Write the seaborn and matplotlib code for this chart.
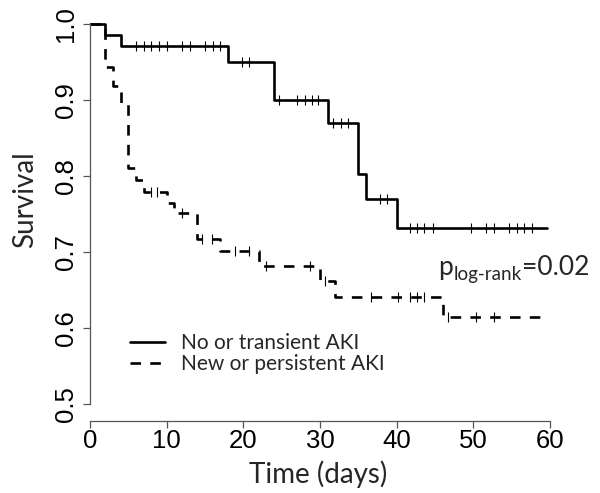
import numpy as np
import pandas as pd
import matplotlib
matplotlib.use('Agg')
import matplotlib.pyplot as plt
from matplotlib.lines import Line2D
import seaborn as sns

# ─── Data ───
# No or transient AKI
t_no = [0, 2, 4, 18, 24, 31, 35, 36, 40]
s_no = [1.0, 0.985, 0.970, 0.949, 0.900, 0.869, 0.803, 0.769, 0.731]
end_no = 59.6
cens_no = [6, 7, 8, 9, 10, 12, 13, 15, 16, 17, 19.8, 20.7, 24.7, 27, 28, 29, 29.8,
           31.7, 32.8, 33.7, 37.8, 38.7, 41.7, 42.7, 43.6, 44.7,
           49.7, 51.6, 52.7, 54.7, 55.7, 56.6, 57.7]

# New or persistent AKI
t_new = [0, 2, 3, 4, 5, 6, 7, 10, 11, 14, 17, 22, 30, 32, 46]
s_new = [1.0, 0.943, 0.918, 0.895, 0.810, 0.794, 0.779, 0.765, 0.751, 0.717,
         0.701, 0.681, 0.662, 0.641, 0.615]
end_new = 58.8
cens_new = [7.9, 8.8, 12, 14.6, 15.9, 18.9, 20.7, 22.9, 28.7, 30.6, 36.7, 40.2,
            41.7, 42.7, 43.6, 46.7, 50.3, 52.7]

x_ticks = [0, 10, 20, 30, 40, 50, 60]
y_ticks = [0.5, 0.6, 0.7, 0.8, 0.9, 1.0]
labels = ['No or transient AKI', 'New or persistent AKI']
p_text = ('p', 'log-rank', '=0.02')

# ─── Setup ───
sns.set_theme(style='white')
plt.rcParams['font.family'] = ['Liberation Sans', 'DejaVu Sans']
LABEL_FONT = ['Lato', 'DejaVu Sans']


def step_frame(times, surv, end):
    return pd.DataFrame({'time': list(times) + [end],
                         'surv': list(surv) + [surv[-1]]})


def censor_frame(times, surv, cens):
    idx = np.searchsorted(times, cens, side='right') - 1
    return pd.DataFrame({'time': cens, 'surv': np.asarray(surv)[idx]})


fig = plt.figure(figsize=(6, 4.93), dpi=100)
ax = fig.add_axes([0.15, 0.146, 0.7667, 0.837])

dash = (0, (4, 3.5))
for times, surv, end, cens, ls in [(t_no, s_no, end_no, cens_no, '-'),
                                   (t_new, s_new, end_new, cens_new, dash)]:
    sns.lineplot(data=step_frame(times, surv, end), x='time', y='surv',
                 drawstyle='steps-post', color='black', linewidth=1.9,
                 linestyle=ls, estimator=None, sort=False, ax=ax, legend=False)
    sns.scatterplot(data=censor_frame(times, surv, cens), x='time', y='surv',
                    marker='|', s=50, color='black', linewidth=0.8, ax=ax,
                    legend=False, zorder=3)

# ─── Axes (R style) ───
ax.set_xlim(0, 60)
ax.set_ylim(0.478, 1.02)
ax.set_xticks(x_ticks)
ax.set_yticks(y_ticks)
ax.set_yticklabels([f'{v:.1f}' for v in y_ticks])
for side in ['top', 'right']:
    ax.spines[side].set_visible(False)
ax.spines['left'].set_bounds(0.5, 1.0)
ax.spines['bottom'].set_bounds(0, 60)
for side in ['left', 'bottom']:
    ax.spines[side].set_color('#555555')
    ax.spines[side].set_linewidth(0.9)
ax.tick_params(axis='both', direction='out', length=5, width=0.9,
               color='#555555', labelsize=18.5, labelcolor='black')
ax.tick_params(axis='x', pad=0.5, bottom=True)
ax.tick_params(axis='y', pad=3.5, labelrotation=90, left=True)
for lbl in ax.get_yticklabels():
    lbl.set_va('center')

ax.set_xlabel('Time (days)', fontsize=20, family=LABEL_FONT)
ax.set_ylabel('Survival', fontsize=20, family=LABEL_FONT)
ax.xaxis.set_label_coords(0.496, -0.095)
ax.yaxis.label.set_va('center')
ax.yaxis.set_label_coords(-0.142, 0.536)

# ─── Legend ───
handles = [Line2D([0], [0], color='black', lw=1.9, linestyle='-'),
           Line2D([0], [0], color='black', lw=1.9, linestyle=dash)]
ax.legend(handles, labels, frameon=False, loc='upper left',
          bbox_to_anchor=(130 / 600, 1 - 333 / 493), bbox_transform=fig.transFigure,
          borderpad=0, borderaxespad=0, handlelength=1.7, handletextpad=0.75,
          labelspacing=0.05, prop={'family': LABEL_FONT, 'size': 15})

# ─── p-value ───
pt = ax.text(45.4, 0.670, p_text[0], fontsize=19, family=LABEL_FONT,
             ha='left', va='baseline')
sub = ax.annotate(p_text[1], xy=(1, 0), xycoords=pt, xytext=(0.5, -2),
                  textcoords='offset points', fontsize=13.5, family=LABEL_FONT,
                  ha='left', va='bottom')
ax.annotate(p_text[2], xy=(1, 0), xycoords=(sub, pt), fontsize=19,
            family=LABEL_FONT, ha='left', va='bottom')

fig.savefig('out.png', dpi=100)
plt.close(fig)
